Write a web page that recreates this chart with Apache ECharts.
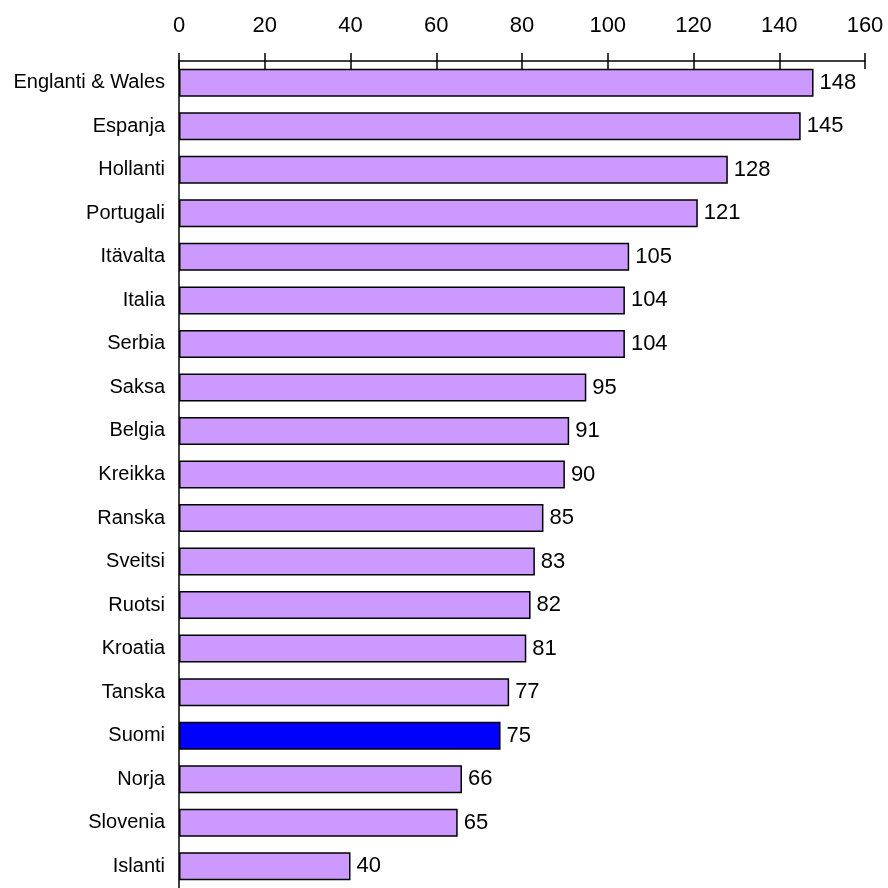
<!DOCTYPE html>
<html><head><meta charset="utf-8">
<script src="https://cdn.jsdelivr.net/npm/echarts@6/dist/echarts.min.js"></script>
<style>html,body{margin:0;padding:0;background:#fff}#c{width:888px;height:888px}</style>
</head><body><div id="c"></div>
<script>
const categories = ["Englanti & Wales","Espanja","Hollanti","Portugali","Itävalta","Italia","Serbia","Saksa","Belgia","Kreikka","Ranska","Sveitsi","Ruotsi","Kroatia","Tanska","Suomi","Norja","Slovenia","Islanti"];
const values = [148,145,128,121,105,104,104,95,91,90,85,83,82,81,77,75,66,65,40];
const highlight = "Suomi";
const xTicks = {min:0, max:160, interval:20};

const font = "'Liberation Sans', Arial, sans-serif";
const chart = echarts.init(document.getElementById('c'));
chart.setOption({
  animation:false,
  grid:{left:179, top:61, width:686, height:832, containLabel:false},
  xAxis:[{
    type:'value', position:'top', min:xTicks.min, max:xTicks.max, interval:xTicks.interval,
    axisLine:{show:true, onZero:false, lineStyle:{color:'#000', width:1.5}},
    axisTick:{show:true, inside:false, length:8, lineStyle:{color:'#000', width:1.5}},
    axisLabel:{color:'#000', fontFamily:font, fontSize:22, margin:24},
    splitLine:{show:false}
  },{
    type:'value', position:'top', min:xTicks.min, max:xTicks.max, interval:xTicks.interval,
    axisLine:{show:false, onZero:false},
    axisTick:{show:true, inside:true, length:8, lineStyle:{color:'#000', width:1.5}},
    axisLabel:{show:false},
    splitLine:{show:false}
  }],
  yAxis:{
    type:'category', data:categories, inverse:true,
    axisLine:{show:true, lineStyle:{color:'#000', width:1.5}},
    axisTick:{show:false},
    axisLabel:{color:'#000', fontFamily:font, fontSize:20, margin:14}
  },
  series:[{
    type:'bar', xAxisIndex:0,
    data:values.map((v,i)=>({value:v, itemStyle:{color: categories[i]===highlight ? '#0000FF' : '#CC99FF'}})),
    barWidth:28,
    itemStyle:{borderColor:'#000', borderWidth:1.5},
    label:{show:true, position:'right', distance:6, color:'#000', fontFamily:font, fontSize:22}
  }]
});
</script></body></html>
